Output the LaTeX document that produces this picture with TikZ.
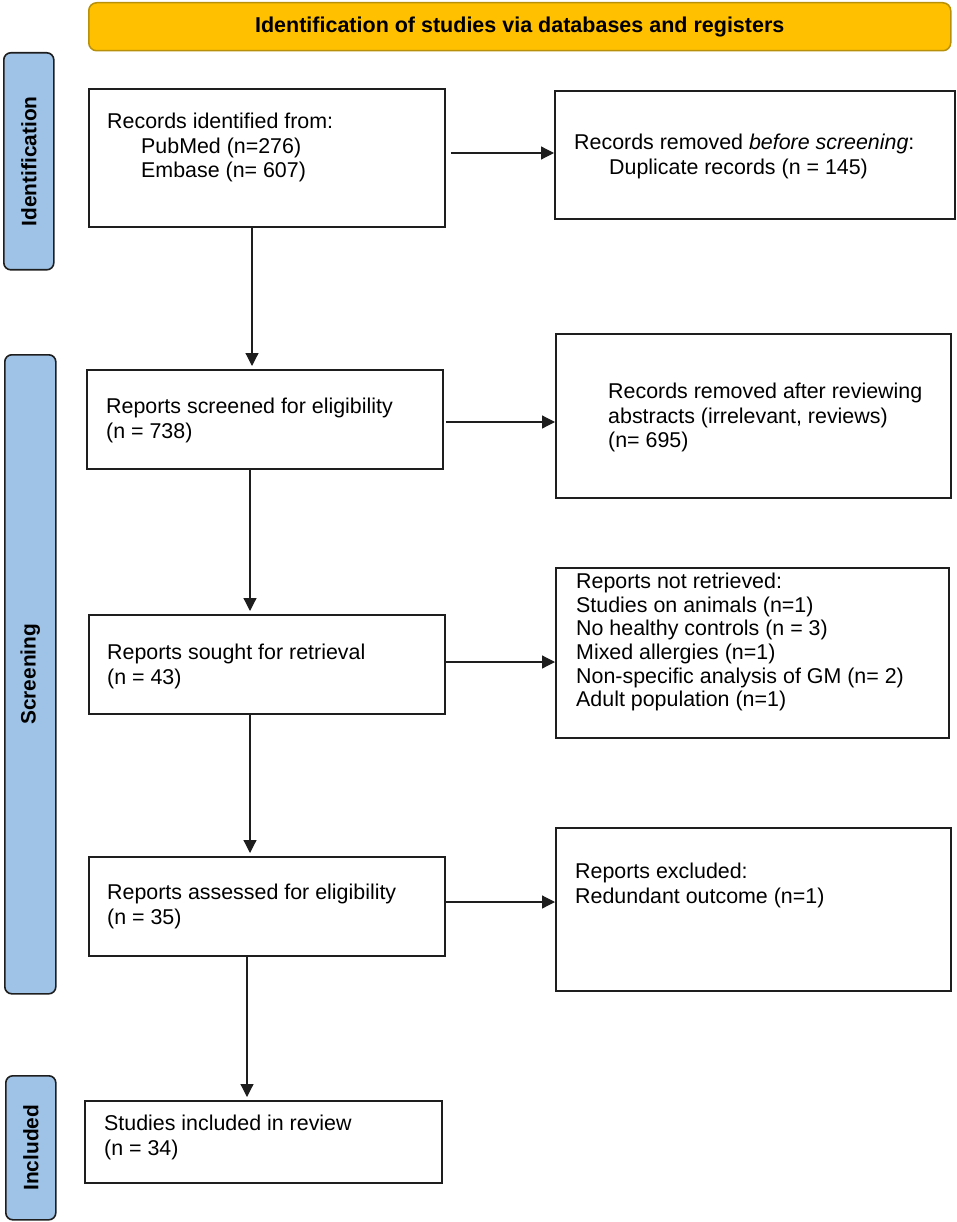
\documentclass[tikz,border=0pt]{standalone}
\usepackage{fontspec}
\setmainfont{Liberation Sans}
\usetikzlibrary{arrows.meta}
\definecolor{hdrfill}{HTML}{FFC000}
\definecolor{hdrdraw}{HTML}{B8900A}
\definecolor{sidefill}{HTML}{9FC3E7}
\definecolor{edge}{HTML}{1E1E1E}
\begin{document}
\begin{tikzpicture}[x=1pt,y=-1pt,
  box/.style={draw=edge, line width=1.8pt, inner sep=0pt, anchor=north west},
  txt/.style={anchor=north west, inner sep=0pt, align=left, font=\fontsize{21.4}{24.5}\selectfont},
  side/.style={draw=edge, line width=1.6pt, fill=sidefill, rounded corners=7pt, inner sep=0pt, anchor=north west},
  sidetxt/.style={rotate=90, font=\bfseries\fontsize{20.9}{24}\selectfont},
  arr/.style={draw=edge, line width=1.2pt, -{Triangle[length=13pt,width=13pt]}}]
\useasboundingbox (0,0) rectangle (956,1222);

% header
\node[draw=hdrdraw, fill=hdrfill, line width=1.5pt, rounded corners=8pt,
  minimum width=862pt, minimum height=48pt, anchor=north west, inner sep=0pt,
  font=\bfseries\fontsize{21.5}{24}\selectfont] (hdr) at (88,2)
  {Identification of studies via databases and registers};

% side labels
\node[side, minimum width=50pt, minimum height=217pt] (sid) at (3,52) {};
\node[sidetxt] (sidt) at (sid.center) {Identification};
\node[side, minimum width=51pt, minimum height=639pt] (scr) at (4,354) {};
\node[sidetxt] (scrt) at (scr.center) {Screening};
\node[side, minimum width=50pt, minimum height=144pt] (inc) at (5,1075) {};
\node[sidetxt] (inct) at (inc.center) {Included};

% main boxes
\node[box, minimum width=356pt, minimum height=138pt] (b1) at (88,88) {};
\node[box, minimum width=356pt, minimum height=99pt] (b2) at (86,369) {};
\node[box, minimum width=356pt, minimum height=99pt] (b3) at (88,614) {};
\node[box, minimum width=356pt, minimum height=99pt] (b4) at (88,856) {};
\node[box, minimum width=357pt, minimum height=82pt] (b5) at (84,1100) {};

% right boxes
\node[box, minimum width=400pt, minimum height=128pt] (r1) at (554,90) {};
\node[box, minimum width=395pt, minimum height=164pt] (r2) at (555,333) {};
\node[box, minimum width=393pt, minimum height=170pt] (r3) at (555,567) {};
\node[box, minimum width=395pt, minimum height=163pt] (r4) at (555,827) {};

% texts
\node[txt] (b1t) at (107,113) {Records identified from:\\\hspace*{34pt}PubMed (n=276)\\\hspace*{34pt}Embase (n= 607)};
\node[txt] (b2t) at (106,398) {Reports screened for eligibility\\(n = 738)};
\node[txt] (b3t) at (107,644) {Reports sought for retrieval\\(n = 43)};
\node[txt] (b4t) at (107,884) {Reports assessed for eligibility\\(n = 35)};
\node[txt] (b5t) at (104,1115) {Studies included in review\\(n = 34)};

\node[txt] (r1t) at (574,134) {Records removed \textit{before screening}:\\\hspace*{35pt}Duplicate records (n = 145)};
\node[txt] (r2t) at (608,383) {Records removed after reviewing\\abstracts (irrelevant, reviews)\\(n= 695)};
\node[txt, font=\fontsize{21.4}{23.6}\selectfont] (r3t) at (576,573) {Reports not retrieved:\\Studies on animals (n=1)\\No healthy controls (n = 3)\\Mixed allergies (n=1)\\Non-specific analysis of GM (n= 2)\\Adult population (n=1)};
\node[txt] (r4t) at (575,863) {Reports excluded:\\Redundant outcome (n=1)};

% horizontal arrows
\draw[arr] ([xshift=5pt]b1.east |- 0,153) -- (r1.west |- 0,153);
\draw[arr] ([xshift=2pt]b2.east |- 0,422) -- (r2.west |- 0,422);
\draw[arr] (b3.east |- 0,662) -- (r3.west |- 0,662);
\draw[arr] (b4.east |- 0,902) -- (r4.west |- 0,902);

% vertical arrows
\draw[arr] (b1.south -| 252,0) -- ([yshift=3pt]b2.north -| 252,0);
\draw[arr] (b2.south -| 250,0) -- ([yshift=3pt]b3.north -| 250,0);
\draw[arr] (b3.south -| 250,0) -- ([yshift=3pt]b4.north -| 250,0);
\draw[arr] (b4.south -| 247,0) -- ([yshift=3pt]b5.north -| 247,0);
\end{tikzpicture}
\end{document}
